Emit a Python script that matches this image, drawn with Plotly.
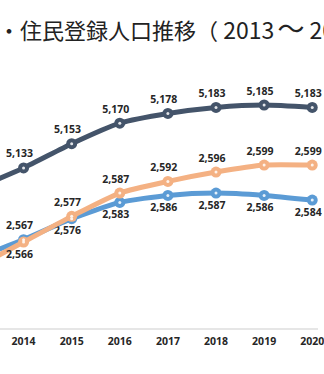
import plotly.graph_objects as go

years = [2013, 2014, 2015, 2016, 2017, 2018, 2019, 2020]
total = [5116, 5133, 5153, 5170, 5178, 5183, 5185, 5183]
orange_vals = [2555, 2566, 2577, 2587, 2592, 2596, 2599, 2599]
blue_vals = [2559, 2567, 2576, 2583, 2586, 2587, 2586, 2584]
tick_years = [2014, 2015, 2016, 2017, 2018, 2019, 2020]
title_head = "人口・住民登録人口推移（"
title_from = "2013"
title_wave = "〜"
title_to = "2022）"

NAVY = "#44546a"
ORANGE = "#f4b183"
BLUE = "#5b9bd5"
LABEL = "#262626"

orange_pos = ["top center"] * len(years)
orange_pos[1] = "bottom center"
blue_pos = ["bottom center"] * len(years)
blue_pos[1] = "top center"

PAD = "\u00a0\u00a0\u00a0"

def fmt(vals):
    return [f"{v:,}{PAD}" for v in vals]

fig = go.Figure()
lblfont = dict(family="Open Sans, DejaVu Sans, sans-serif", size=10.5, color=LABEL, weight="bold")

fig.add_trace(go.Scatter(x=years, y=blue_vals, yaxis="y2", mode="lines+markers+text",
                         line=dict(color=BLUE, width=5, shape="spline", smoothing=0.6),
                         marker=dict(size=11, color=BLUE),
                         text=fmt(blue_vals), textposition=blue_pos, textfont=lblfont,
                         cliponaxis=False, showlegend=False))
fig.add_trace(go.Scatter(x=years, y=orange_vals, yaxis="y2", mode="lines+markers+text",
                         line=dict(color=ORANGE, width=5, shape="spline", smoothing=0.6),
                         marker=dict(size=11, color=ORANGE),
                         text=fmt(orange_vals), textposition=orange_pos, textfont=lblfont,
                         cliponaxis=False, showlegend=False))
fig.add_trace(go.Scatter(x=years, y=total, yaxis="y", mode="lines+markers+text",
                         line=dict(color=NAVY, width=5, shape="spline", smoothing=0.6),
                         marker=dict(size=11, color=NAVY),
                         text=fmt(total), textposition="top center", textfont=lblfont,
                         cliponaxis=False, showlegend=False))
for vals, ax in ((blue_vals, "y2"), (orange_vals, "y2"), (total, "y")):
    fig.add_trace(go.Scatter(x=years, y=vals, yaxis=ax, mode="markers",
                             marker=dict(size=3, color="rgba(255,255,255,0.85)"),
                             hoverinfo="skip", showlegend=False, cliponaxis=False))

NB = "\u00a0"
title_html = (title_head + '<span style="font-size:23px">' + NB + title_from + "</span>"
              + '<span style="font-size:14px">' + NB + "</span>"
              + '<span style="font-size:27px">' + title_wave + "</span>"
              + '<span style="font-size:23px">' + NB + title_to + "</span>")

fig.update_layout(
    width=324, height=374,
    margin=dict(l=0, r=0, t=60, b=46),
    paper_bgcolor="white", plot_bgcolor="white",
    xaxis=dict(range=[2013.51, 2020.12], tickvals=tick_years,
               ticktext=[str(y) for y in tick_years],
               showgrid=False, zeroline=False, showline=True,
               linecolor="#e6e6e6", linewidth=2, ticks="",
               ticklabeloverflow="allow", ticklabelstandoff=2,
               tickfont=dict(family="Open Sans, DejaVu Sans, sans-serif", size=10.5,
                             color=LABEL, weight="bold")),
    yaxis=dict(range=[5000.7, 5222.2], visible=False, showgrid=False),
    yaxis2=dict(range=[2529.1, 2644.1], overlaying="y", visible=False, showgrid=False),
    annotations=[dict(text=title_html, xref="paper", yref="paper",
                      x=-49 / 324, y=1 + 33 / 268, xanchor="left", yanchor="middle",
                      showarrow=False,
                      font=dict(family="Noto Sans CJK JP", size=22, color="#222222"))],
)

fig.write_html("out.html")
